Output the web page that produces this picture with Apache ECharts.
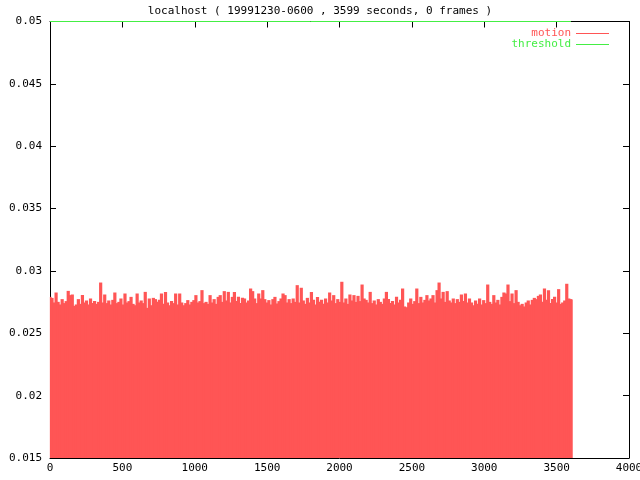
<!DOCTYPE html>
<html><head><meta charset="utf-8">
<script src="https://cdn.jsdelivr.net/npm/echarts@6/dist/echarts.min.js"></script>
<style>html,body{margin:0;padding:0;background:#fff}#c{width:640px;height:480px}</style>
</head><body><div id="c"></div>
<script>
const titleText = 'localhost ( 19991230-0600 , 3599 seconds, 0 frames )';
const seriesNames = ['motion', 'threshold'];
const sampleStepSeconds = 14;
const lastSecond = 3599;
const motionValues = [
.02792,.02784,.02747,.02827,.02752,.02731,.02774,.02742,.02758,.02840,.02806,.02811,.02720,.02731,.02774,.02736,.02806,.02747,.02763,.02731,.02779,.02742,.02758,.02736,.02752,.02907,.02747,.02811,.02742,.02763,.02731,.02768,.02827,.02742,.02752,.02779,.02731,.02819,.02747,.02758,.02792,.02736,.02725,.02819,.02747,.02763,.02742,.02832,.02704,.02779,.02725,.02784,
.02774,.02752,.02768,.02819,.02736,.02832,.02747,.02725,.02758,.02742,.02819,.02731,.02819,.02747,.02725,.02742,.02766,.02731,.02752,.02766,.02806,.02747,.02758,.02846,.02742,.02752,.02736,.02806,.02747,.02774,.02736,.02792,.02806,.02752,.02838,.02763,.02832,.02747,.02792,.02832,.02758,.02792,.02742,.02784,.02779,.02747,.02763,.02859,.02838,.02779,.02742,.02819,
.02779,.02846,.02774,.02747,.02766,.02731,.02774,.02792,.02739,.02758,.02779,.02819,.02806,.02747,.02774,.02742,.02779,.02752,.02886,.02747,.02865,.02763,.02736,.02784,.02747,.02832,.02768,.02731,.02790,.02752,.02768,.02736,.02779,.02747,.02827,.02763,.02806,.02742,.02774,.02752,.02913,.02747,.02779,.02736,.02811,.02763,.02806,.02752,.02800,.02758,.02891,.02779,
.02768,.02747,.02832,.02742,.02763,.02731,.02774,.02752,.02736,.02779,.02832,.02774,.02742,.02758,.02731,.02792,.02747,.02768,.02859,.02715,.02709,.02747,.02779,.02736,.02758,.02859,.02742,.02792,.02747,.02768,.02806,.02763,.02779,.02806,.02747,.02846,.02907,.02779,.02832,.02752,.02838,.02763,.02747,.02779,.02742,.02774,.02752,.02811,.02758,.02819,.02747,.02779,
.02747,.02725,.02763,.02736,.02779,.02731,.02766,.02742,.02891,.02752,.02736,.02806,.02747,.02768,.02731,.02792,.02827,.02819,.02891,.02758,.02819,.02742,.02846,.02752,.02725,.02736,.02715,.02747,.02763,.02731,.02768,.02784,.02774,.02800,.02811,.02752,.02859,.02768,.02846,.02742,.02774,.02792,.02747,.02854,.02736,.02747,.02763,.02897,.02779,.02774
];
const motionLastValue = .02768;
const thresholdValue = 0.05;
const xTicks = [0, 500, 1000, 1500, 2000, 2500, 3000, 3500, 4000];
const yTicks = [0.015, 0.02, 0.025, 0.03, 0.035, 0.04, 0.045, 0.05];

const motionData = motionValues.map((v, i) => [i * sampleStepSeconds, v]);
motionData.push([lastSecond, motionLastValue]);
const thresholdData = [[0, thresholdValue], [lastSecond, thresholdValue]];

const FONT = 'DejaVu Sans Mono';
const RED = '#ff5555';
const GREEN = '#44ee44';
const xMin = xTicks[0], xMax = xTicks[xTicks.length - 1], xInt = xTicks[1] - xTicks[0];
const yMin = yTicks[0], yMax = yTicks[yTicks.length - 1], yInt = 0.005;

function axisBase() {
  return {
    axisLine: { show: true, onZero: false, lineStyle: { color: '#000', width: 1 } },
    axisTick: { show: true, inside: true, length: 6, lineStyle: { color: '#000', width: 1 } },
    splitLine: { show: false }
  };
}

const chart = echarts.init(document.getElementById('c'), null, { renderer: 'canvas' });
chart.setOption({
  animation: false,
  backgroundColor: '#fff',
  title: {
    text: titleText, left: 'center', top: 1,
    textStyle: { fontFamily: FONT, fontSize: 11, fontWeight: 'normal', color: '#000' }
  },
  legend: {
    orient: 'vertical', right: 26, top: 23, align: 'right',
    itemWidth: 33, itemHeight: 1, itemGap: 0,
    textStyle: { fontFamily: FONT, fontSize: 11, lineHeight: 11, padding: [0, 0, 0, 0] },
    data: [
      { name: seriesNames[0], icon: 'rect', itemStyle: { color: RED }, textStyle: { color: RED } },
      { name: seriesNames[1], icon: 'rect', itemStyle: { color: GREEN }, textStyle: { color: GREEN } }
    ]
  },
  grid: { left: 50, right: 11, top: 21.5, bottom: 22, containLabel: false, outerBoundsMode: 'none' },
  xAxis: [
    Object.assign(axisBase(), {
      type: 'value', position: 'bottom', min: xMin, max: xMax, interval: xInt,
      axisLabel: { fontFamily: FONT, fontSize: 11, color: '#000', margin: 5, formatter: v => String(v) }
    }),
    Object.assign(axisBase(), {
      type: 'value', position: 'top', min: xMin, max: xMax, interval: xInt,
      axisLabel: { show: false }
    })
  ],
  yAxis: [
    Object.assign(axisBase(), {
      type: 'value', position: 'left', min: yMin, max: yMax, interval: yInt,
      axisLabel: { fontFamily: FONT, fontSize: 11, color: '#000', margin: 8,
        formatter: v => String(parseFloat(v.toFixed(3))) }
    }),
    Object.assign(axisBase(), {
      type: 'value', position: 'right', min: yMin, max: yMax, interval: yInt,
      axisLabel: { show: false }
    })
  ],
  series: [
    {
      name: seriesNames[0], type: 'bar', data: motionData, barWidth: 3.2,
      itemStyle: { color: RED }, z: 2
    },
    {
      name: seriesNames[1], type: 'line', data: thresholdData, symbol: 'none', clip: false,
      lineStyle: { color: GREEN, width: 1 }, itemStyle: { color: GREEN }, zlevel: 1, z: 10
    }
  ]
});
</script></body></html>
